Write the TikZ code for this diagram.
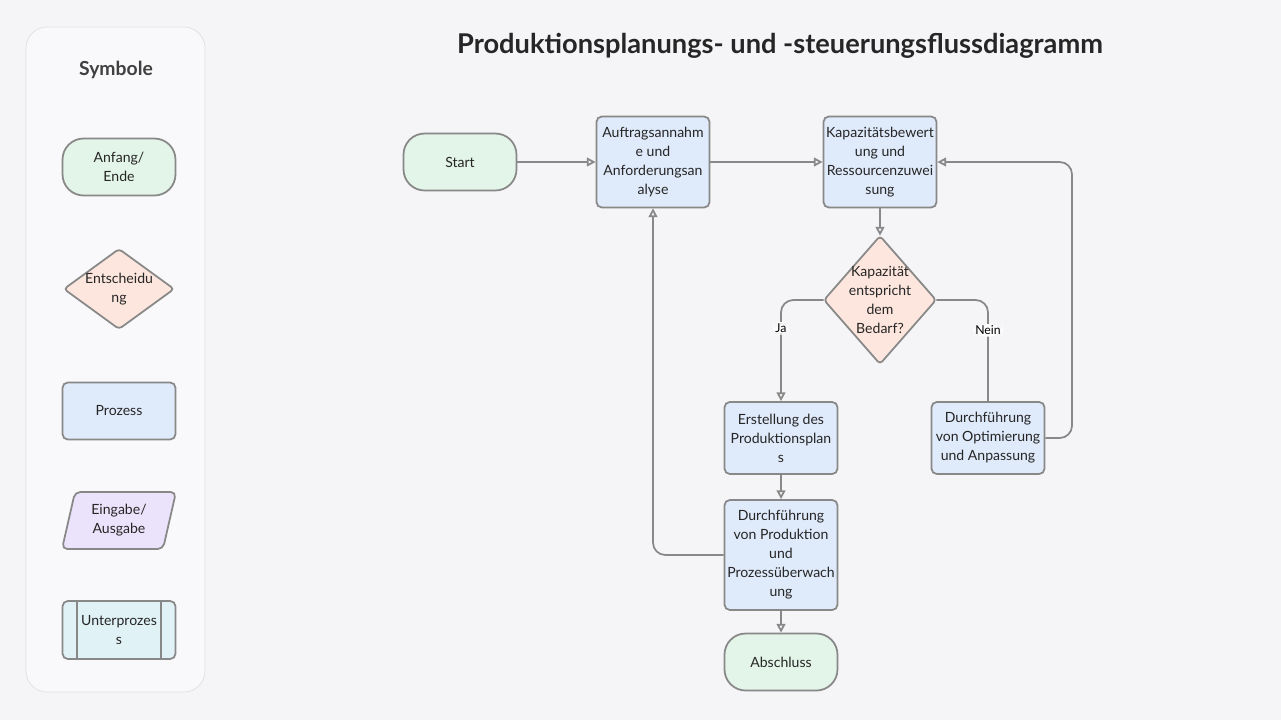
\documentclass[tikz,border=0pt]{standalone}
\usepackage{fontspec}
\setmainfont{Lato}
\usetikzlibrary{shapes.geometric,arrows.meta}
\definecolor{bg}{HTML}{F5F5F8}
\definecolor{ln}{HTML}{888888}
\definecolor{fg}{HTML}{E3F4E8}
\definecolor{fo}{HTML}{FDE6DD}
\definecolor{fb}{HTML}{DFEAFA}
\definecolor{fp}{HTML}{EBE3FB}
\definecolor{fc}{HTML}{E0F2F5}
\begin{document}
\begin{tikzpicture}[x=0.02cm,y=-0.02cm,
  base/.style={draw=ln,line width=1pt,align=center,font=\fontsize{8}{10.8}\selectfont,text=black!85,inner sep=1pt},
  term/.style={base,fill=fg,rounded corners=12pt,minimum width=2.26cm,minimum height=1.14cm},
  proc/.style={base,fill=fb,rounded corners=3pt,minimum width=2.26cm},
  dtxt/.style={align=center,font=\fontsize{8}{10.8}\selectfont,text=black!85,inner sep=0pt},
  dshape/.style={draw=ln,line width=1pt,fill=fo,rounded corners=2pt},
  arr/.style={draw=ln,line width=1pt,-{Triangle[open,length=5pt,width=5pt]},rounded corners=7pt},
  lnk/.style={draw=ln,line width=1pt,rounded corners=7pt},
  lab/.style={fill=white,inner sep=1pt,font=\fontsize{7}{9}\selectfont}]
\fill[bg] (0,0) rectangle (1281,720);
\useasboundingbox (0,0) rectangle (1281,720);
% legend
\draw[draw=black!12,fill=bg!60!white,rounded corners=12pt] (26,27) rectangle (205,692);
\node[font=\bfseries\fontsize{11}{13}\selectfont,text=black!75] (sym) at (116,70) {Symbole};
\node[term] (l1) at (119,167) {Anfang/\\Ende};
\draw[dshape] (64,289) -- (119,249) -- (174,289) -- (119,329) -- cycle;
\node[dtxt,minimum width=2.2cm,minimum height=1.6cm] (l2) at (119,289) {Entscheidu\\ng};
\node[proc,minimum height=1.14cm] (l3) at (119,411) {Prozess};
\draw[draw=ln,line width=1pt,fill=fp,rounded corners=3pt] (62,549) -- (75,492) -- (176,492) -- (163,549) -- cycle;
\node[dtxt] (l4) at (119,520) {Eingabe/\\Ausgabe};
\node[proc,fill=fc,minimum height=1.16cm] (l5) at (119,630) {Unterprozes\\s};
\draw[ln,line width=1.4pt] (77,601) -- (77,659) (161,601) -- (161,659);
% title
\node[font=\bfseries\fontsize{15.5}{18}\selectfont,text=black!85] (t) at (780,46) {Produktionsplanungs- und -steuerungsflussdiagramm};
% main
\node[term] (s) at (460,162) {Start};
\node[proc,minimum height=1.82cm] (a) at (653,162) {Auftragsannahm\\e und\\Anforderungsan\\alyse};
\node[proc,minimum height=1.82cm] (k) at (880,162) {Kapazitätsbewert\\ung und\\Ressourcenzuwei\\sung};
\draw[dshape] (824,300) -- (880,236) -- (936,300) -- (880,364) -- cycle;
\node[dtxt,minimum width=2.24cm,minimum height=2.56cm] (d) at (880,300) {Kapazität\\entspricht\\dem\\Bedarf?};
\node[proc,minimum height=1.44cm] (e) at (781,438) {Erstellung des\\Produktionsplan\\s};
\node[proc,minimum height=1.44cm] (o) at (988,438) {Durchführung\\von Optimierung\\und Anpassung};
\node[proc,minimum height=2.2cm] (p) at (781,555) {Durchführung\\von Produktion\\und\\Prozessüberwach\\ung};
\node[term] (ab) at (781,662) {Abschluss};
\draw[arr] (s) -- (a);
\draw[arr] (a) -- (k);
\draw[arr] (k) -- (d.north);
\draw[arr] (d.west) -| node[lab,pos=0.64] {Ja} (e.north);
\draw[lnk] (d.east) -| node[lab,pos=0.65] {Nein} (o.north);
\draw[arr] (o.east) -- (1072,438) -- (1072,162) -- (k.east);
\draw[arr] (e) -- (p);
\draw[arr] (p.west) -| (a.south);
\draw[arr] (p) -- (ab);
\end{tikzpicture}
\end{document}
